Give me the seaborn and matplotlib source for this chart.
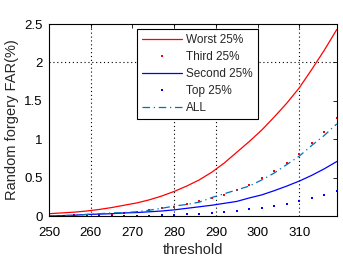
import pandas as pd
import numpy as np
import matplotlib
matplotlib.use("Agg")
import matplotlib.pyplot as plt
import seaborn as sns

# ==================================================
# DATA
# ==================================================

threshold = [250, 253, 256, 259, 262, 265, 268, 271, 274, 277, 280, 283,
             286, 289, 292, 295, 298, 301, 304, 307, 310, 313, 316, 319]

worst = [0.03, 0.04, 0.05, 0.065, 0.085, 0.11, 0.14, 0.17, 0.21, 0.26, 0.32, 0.39,
         0.47, 0.57, 0.69, 0.83, 0.97, 1.12, 1.29, 1.47, 1.67, 1.91, 2.16, 2.43]

third = [0.0, 0.005, 0.01, 0.015, 0.02, 0.03, 0.04, 0.055, 0.075, 0.10, 0.12, 0.155,
         0.19, 0.23, 0.28, 0.34, 0.40, 0.49, 0.58, 0.69, 0.81, 0.95, 1.10, 1.28]

second = [0.0, 0.005, 0.01, 0.02, 0.025, 0.03, 0.04, 0.045, 0.055, 0.065, 0.08, 0.10,
          0.12, 0.14, 0.165, 0.19, 0.235, 0.275, 0.33, 0.39, 0.455, 0.53, 0.615, 0.71]

top = [0.0, 0.0, 0.0, 0.0, 0.005, 0.005, 0.005, 0.005, 0.005, 0.01, 0.01, 0.02,
       0.025, 0.04, 0.05, 0.065, 0.085, 0.105, 0.135, 0.16, 0.195, 0.23, 0.28, 0.32]

all_users = [0.0, 0.005, 0.01, 0.02, 0.03, 0.04, 0.045, 0.055, 0.075, 0.10, 0.13, 0.15,
             0.18, 0.24, 0.29, 0.34, 0.39, 0.47, 0.56, 0.67, 0.78, 0.92, 1.05, 1.20]

x_ticks = [250, 260, 270, 280, 290, 300, 310]
y_ticks = [0, 0.5, 1, 1.5, 2, 2.5]
y_tick_labels = ["0", "0.5", "1", "1.5", "2", "2.5"]

# ==================================================
# STYLE
# ==================================================

sns.set_theme(style="white")
plt.rcParams["font.family"] = ["Liberation Sans", "DejaVu Sans"]
plt.rcParams["xtick.direction"] = "in"
plt.rcParams["ytick.direction"] = "in"

# ==================================================
# PLOT
# ==================================================

fig = plt.figure(figsize=(3.43, 2.59), dpi=100)
ax = fig.add_axes([0.143, 0.166, 0.839, 0.741])

# dotted grid (only the lines visible in the original)
for gx in [260, 280, 290, 310]:
    ax.axvline(gx, color="black", linestyle=(0, (1, 2.5)), linewidth=0.8, zorder=0)
ax.axhline(2, color="black", linestyle=(0, (1, 2.5)), linewidth=0.8, zorder=0)

sns.lineplot(x=threshold, y=worst, ax=ax, color="#ff0000",
             linewidth=0.9, label="Worst 25%")
sns.lineplot(x=threshold, y=third, ax=ax, color="#ff0000", linestyle="",
             marker="s", markersize=1.7, markeredgewidth=0, label="Third 25%")
sns.lineplot(x=threshold, y=second, ax=ax, color="#0000ff",
             linewidth=0.9, label="Second 25%")
sns.lineplot(x=threshold, y=top, ax=ax, color="#0000ff", linestyle="",
             marker="s", markersize=1.7, markeredgewidth=0, label="Top 25%")
sns.lineplot(x=threshold, y=all_users, ax=ax, color="#0072bd",
             linewidth=0.9, linestyle=(0, (6, 3, 1, 3)), label="ALL")

ax.set_xlim(250, 319)
ax.set_ylim(0, 2.5)
ax.set_xticks(x_ticks)
ax.set_yticks(y_ticks)
ax.set_yticklabels(y_tick_labels)
ax.tick_params(axis="both", labelsize=9.5, length=3, width=0.6,
               top=True, right=True, colors="black")
ax.tick_params(axis="x", pad=8)
ax.tick_params(axis="y", pad=4.5)

for spine in ax.spines.values():
    spine.set_color("black")
    spine.set_linewidth(0.8)

ax.set_xlabel("threshold", fontsize=10.5, labelpad=3)
ax.set_ylabel("Random forgery FAR(%)", fontsize=10.5, labelpad=4)

leg = ax.legend(loc="upper left", bbox_to_anchor=(0.305, 0.975),
                fontsize=8.5, frameon=True, fancybox=False,
                handlelength=3.4, handletextpad=0.35, labelspacing=0.42,
                borderpad=0.45, borderaxespad=0)
leg.get_frame().set_edgecolor("black")
leg.get_frame().set_linewidth(0.8)
leg.get_frame().set_alpha(1)

fig.savefig("out.png", dpi=100, facecolor="white")
plt.close(fig)
